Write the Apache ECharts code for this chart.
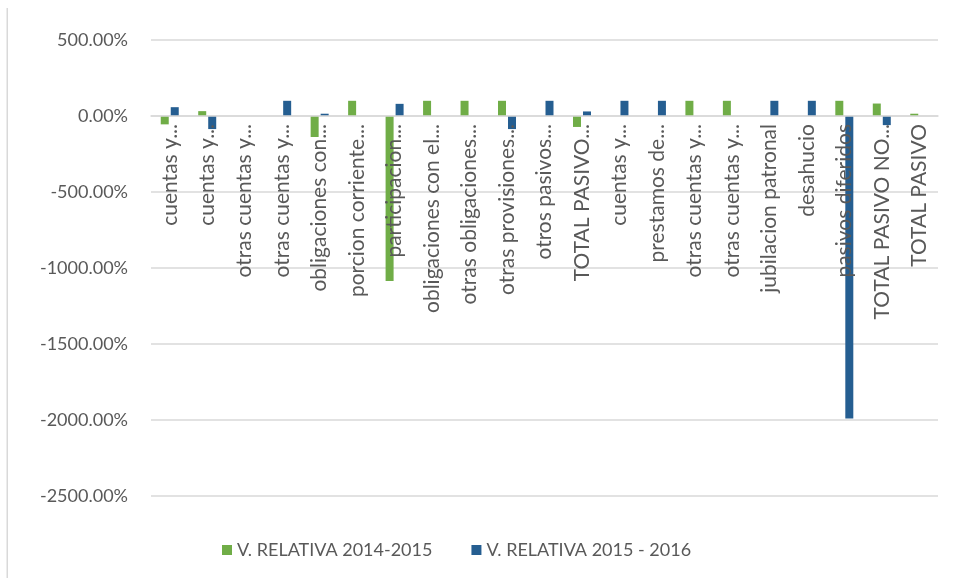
<!DOCTYPE html>
<html>
<head>
<meta charset="utf-8">
<script src="https://cdn.jsdelivr.net/npm/echarts@6/dist/echarts.min.js"></script>
<style>
  html, body { margin: 0; padding: 0; background: #fff; }
  #chart { width: 955px; height: 578px; }
</style>
</head>
<body>
<div id="chart"></div>
<script>
// categories as Excel shows them (already truncated)
const categories = [
  'cuentas y...', 'cuentas y...', 'otras cuentas y...', 'otras cuentas y...',
  'obligaciones con...', 'porcion corriente...', 'participacion...',
  'obligaciones con el...', 'otras obligaciones...', 'otras provisiones...',
  'otros pasivos...', 'TOTAL PASIVO...', 'cuentas y...', 'prestamos de...',
  'otras cuentas y...', 'otras cuentas y...', 'jubilacion patronal',
  'desahucio', 'pasivos diferidos', 'TOTAL PASIVO NO...', 'TOTAL PASIVO'
];

const seriesNames = ['V. RELATIVA 2014-2015', 'V. RELATIVA 2015 - 2016'];

// values in percent
const rel2014_2015 = [
  -55, 32, null, null, -138, 100, -1085, 100, 100, 100,
  null, -72, null, null, 100, 100, null, null, 100, 82, 15
];
const rel2015_2016 = [
  58, -86, null, 100, 15, null, 80, null, null, -86,
  100, 30, 100, 100, null, null, 100, 100, -1990, -60, null
];

const yTicks = { min: -2500, max: 500, interval: 500 };

const chart = echarts.init(document.getElementById('chart'));

const textColor = '#595959';
const gridColor = '#d9d9d9';

// grid box, the category axis sits on the 0% line
const gridTop = 40;
const gridBottom = 82;
const plotHeight = 578 - gridTop - gridBottom;
const zeroOffset = -plotHeight * (0 - yTicks.min) / (yTicks.max - yTicks.min);

chart.setOption({
  backgroundColor: '#fff',
  animation: false,
  textStyle: { fontFamily: 'Lato' },
  grid: { left: 151, right: 17, top: gridTop, bottom: gridBottom, outerBoundsMode: 'none', containLabel: false },
  legend: {
    left: 217,
    top: 536,
    itemWidth: 10,
    itemHeight: 10,
    itemGap: 39,
    icon: 'rect',
    textStyle: { color: textColor, fontSize: 18, fontFamily: 'Lato' },
    data: seriesNames
  },
  xAxis: {
    type: 'category',
    data: categories,
    z: 5,
    offset: zeroOffset,
    axisLine: { onZero: false, lineStyle: { color: gridColor, width: 1.5 } },
    axisTick: { show: false },
    axisLabel: {
      interval: 0,
      rotate: 90,
      margin: 8,
      color: textColor,
      fontSize: 21,
      fontFamily: 'Lato'
    }
  },
  yAxis: {
    type: 'value',
    min: yTicks.min,
    max: yTicks.max,
    interval: yTicks.interval,
    axisLine: { show: false },
    axisTick: { show: false },
    splitLine: { lineStyle: { color: gridColor, width: 1.5 } },
    axisLabel: {
      margin: 23,
      color: textColor,
      fontSize: 18,
      fontFamily: 'Lato',
      formatter: (v) => v.toFixed(2) + '%'
    }
  },
  series: [
    {
      name: seriesNames[0],
      type: 'bar',
      data: rel2014_2015,
      barWidth: 8,
      barGap: '25%',
      itemStyle: { color: '#70ad47' }
    },
    {
      name: seriesNames[1],
      type: 'bar',
      data: rel2015_2016,
      barWidth: 8,
      itemStyle: { color: '#255e91' }
    }
  ],
  graphic: [
    {
      type: 'rect',
      shape: { x: 6.5, y: 8, width: 1.5, height: 570 },
      style: { fill: gridColor },
      silent: true
    }
  ]
});
</script>
</body>
</html>
